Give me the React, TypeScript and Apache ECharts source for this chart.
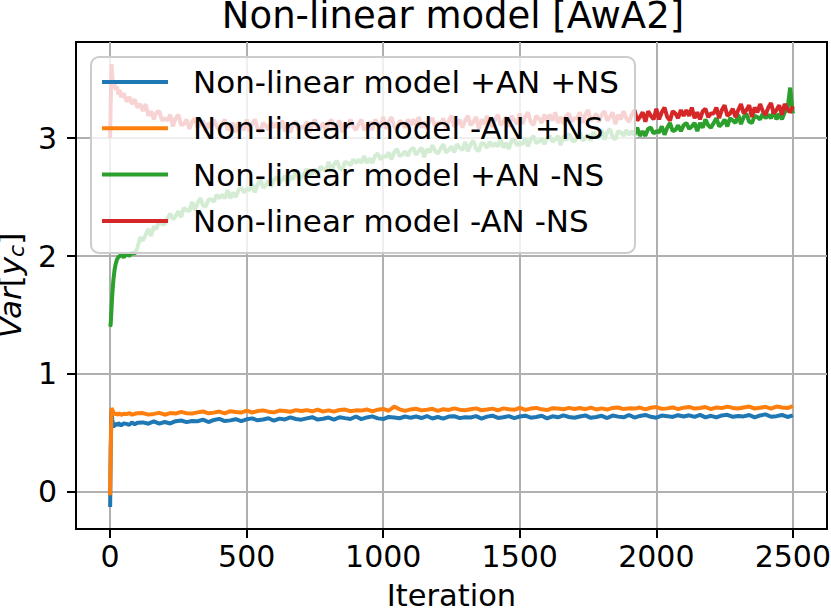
import React, { useEffect, useRef } from "react";
import * as echarts from "echarts";

// sampling grid of the two "+NS" runs
const iterationsSparse = [
  0, 2, 5, 8, 12, 16, 20, 25, 30, 35, 40, 50, 60, 70, 80, 90, 100,
  120, 140, 160, 180, 200, 220, 240, 260, 280, 300,
  320, 340, 360, 380, 400, 420, 440, 460, 480, 500,
  520, 540, 560, 580, 600, 620, 640, 660, 680, 700,
  720, 740, 760, 780, 800, 820, 840, 860, 880, 900,
  920, 940, 960, 980, 1000, 1020, 1040, 1060, 1080, 1100,
  1120, 1140, 1160, 1180, 1200, 1220, 1240, 1260, 1280, 1300,
  1320, 1340, 1360, 1380, 1400, 1420, 1440, 1460, 1480, 1500,
  1520, 1540, 1560, 1580, 1600, 1620, 1640, 1660, 1680, 1700,
  1720, 1740, 1760, 1780, 1800, 1820, 1840, 1860, 1880, 1900,
  1920, 1940, 1960, 1980, 2000, 2020, 2040, 2060, 2080, 2100,
  2120, 2140, 2160, 2180, 2200, 2220, 2240, 2260, 2280, 2300,
  2320, 2340, 2360, 2380, 2400, 2420, 2440, 2460, 2480, 2500,
];

// sampling grid of the two "-NS" runs
const iterationsDense = [
  0, 2, 5, 8, 12, 16, 20, 25, 30, 35, 40, 50, 60, 70, 80, 90, 100,
  110, 120, 130, 140, 150, 160, 170, 180, 190, 200,
  210, 220, 230, 240, 250, 260, 270, 280, 290, 300,
  310, 320, 330, 340, 350, 360, 370, 380, 390, 400,
  410, 420, 430, 440, 450, 460, 470, 480, 490, 500,
  510, 520, 530, 540, 550, 560, 570, 580, 590, 600,
  610, 620, 630, 640, 650, 660, 670, 680, 690, 700,
  710, 720, 730, 740, 750, 760, 770, 780, 790, 800,
  810, 820, 830, 840, 850, 860, 870, 880, 890, 900,
  910, 920, 930, 940, 950, 960, 970, 980, 990, 1000,
  1010, 1020, 1030, 1040, 1050, 1060, 1070, 1080, 1090, 1100,
  1110, 1120, 1130, 1140, 1150, 1160, 1170, 1180, 1190, 1200,
  1210, 1220, 1230, 1240, 1250, 1260, 1270, 1280, 1290, 1300,
  1310, 1320, 1330, 1340, 1350, 1360, 1370, 1380, 1390, 1400,
  1410, 1420, 1430, 1440, 1450, 1460, 1470, 1480, 1490, 1500,
  1510, 1520, 1530, 1540, 1550, 1560, 1570, 1580, 1590, 1600,
  1610, 1620, 1630, 1640, 1650, 1660, 1670, 1680, 1690, 1700,
  1710, 1720, 1730, 1740, 1750, 1760, 1770, 1780, 1790, 1800,
  1810, 1820, 1830, 1840, 1850, 1860, 1870, 1880, 1890, 1900,
  1910, 1920, 1930, 1940, 1950, 1960, 1970, 1980, 1990, 2000,
  2010, 2020, 2030, 2040, 2050, 2060, 2070, 2080, 2090, 2100,
  2110, 2120, 2130, 2140, 2150, 2160, 2170, 2180, 2190, 2200,
  2210, 2220, 2230, 2240, 2250, 2260, 2270, 2280, 2290, 2300,
  2310, 2320, 2330, 2340, 2350, 2360, 2370, 2380, 2390, 2400,
  2410, 2420, 2430, 2440, 2450, 2460, 2470, 2480, 2490, 2500,
];

const plusAnPlusNs = [
  -0.13, 0.35, 0.69, 0.61, 0.55, 0.565, 0.58, 0.56, 0.585, 0.57, 0.562, 0.58, 0.575, 0.567, 0.588, 0.572, 0.585,
  0.588, 0.577, 0.596, 0.577, 0.591, 0.579, 0.598, 0.604, 0.59, 0.6,
  0.598, 0.611, 0.591, 0.609, 0.618, 0.599, 0.605, 0.615, 0.599, 0.614,
  0.622, 0.606, 0.613, 0.623, 0.602, 0.62, 0.613, 0.63, 0.617, 0.611,
  0.622, 0.632, 0.612, 0.619, 0.629, 0.611, 0.632, 0.624, 0.617, 0.638,
  0.616, 0.63, 0.639, 0.622, 0.616, 0.634, 0.63, 0.623, 0.638, 0.628,
  0.638, 0.625, 0.642, 0.621, 0.634, 0.62, 0.637, 0.641, 0.624, 0.632,
  0.629, 0.641, 0.62, 0.637, 0.645, 0.626, 0.631, 0.641, 0.624, 0.638,
  0.645, 0.628, 0.634, 0.644, 0.622, 0.64, 0.631, 0.647, 0.634, 0.627,
  0.638, 0.647, 0.627, 0.634, 0.644, 0.625, 0.646, 0.637, 0.631, 0.651,
  0.629, 0.643, 0.651, 0.635, 0.628, 0.646, 0.641, 0.634, 0.649, 0.638,
  0.648, 0.635, 0.652, 0.631, 0.644, 0.63, 0.647, 0.652, 0.635, 0.642,
  0.639, 0.651, 0.63, 0.647, 0.656, 0.636, 0.641, 0.651, 0.634, 0.648,
];

const minusAnPlusNs = [
  -0.03, 0.32, 0.71, 0.695, 0.672, 0.655, 0.668, 0.652, 0.66, 0.664, 0.65, 0.662, 0.658, 0.667, 0.653, 0.661, 0.666,
  0.667, 0.654, 0.66, 0.669, 0.653, 0.667, 0.663, 0.677, 0.666, 0.663,
  0.673, 0.681, 0.665, 0.671, 0.68, 0.665, 0.683, 0.676, 0.671, 0.688,
  0.672, 0.684, 0.69, 0.679, 0.673, 0.688, 0.684, 0.678, 0.692, 0.684,
  0.692, 0.682, 0.697, 0.68, 0.69, 0.679, 0.694, 0.697, 0.683, 0.69,
  0.688, 0.698, 0.681, 0.696, 0.702, 0.687, 0.722, 0.699, 0.686, 0.698,
  0.704, 0.69, 0.696, 0.703, 0.686, 0.7, 0.694, 0.707, 0.696, 0.691,
  0.7, 0.707, 0.691, 0.697, 0.705, 0.69, 0.707, 0.7, 0.695, 0.711,
  0.694, 0.705, 0.711, 0.699, 0.693, 0.709, 0.705, 0.699, 0.711, 0.702,
  0.71, 0.7, 0.714, 0.698, 0.707, 0.697, 0.711, 0.714, 0.701, 0.707,
  0.705, 0.714, 0.698, 0.712, 0.718, 0.703, 0.707, 0.715, 0.701, 0.713,
  0.719, 0.705, 0.711, 0.718, 0.701, 0.715, 0.709, 0.722, 0.711, 0.706,
  0.715, 0.722, 0.706, 0.712, 0.72, 0.705, 0.722, 0.715, 0.71, 0.726,
];

const plusAnMinusNs = [
  1.4, 1.42, 1.55, 1.68, 1.8, 1.88, 1.93, 1.97, 1.99, 2.0, 2.01, 1.99, 2.02, 2.0, 2.03, 2.02, 2.07,
  2.16, 2.13, 2.18, 2.23, 2.17, 2.25, 2.23, 2.31, 2.27, 2.27,
  2.32, 2.36, 2.31, 2.34, 2.38, 2.33, 2.41, 2.39, 2.38, 2.46,
  2.39, 2.45, 2.49, 2.43, 2.42, 2.48, 2.48, 2.46, 2.52, 2.49,
  2.52, 2.49, 2.56, 2.49, 2.54, 2.5, 2.56, 2.58, 2.54, 2.57,
  2.56, 2.61, 2.54, 2.61, 2.65, 2.58, 2.6, 2.64, 2.59, 2.65,
  2.67, 2.62, 2.65, 2.68, 2.61, 2.68, 2.65, 2.72, 2.67, 2.66,
  2.7, 2.74, 2.68, 2.7, 2.74, 2.68, 2.76, 2.74, 2.72, 2.8,
  2.72, 2.78, 2.81, 2.75, 2.73, 2.8, 2.79, 2.77, 2.82, 2.79,
  2.82, 2.79, 2.85, 2.79, 2.83, 2.79, 2.85, 2.87, 2.82, 2.85,
  2.84, 2.88, 2.82, 2.88, 2.91, 2.85, 2.86, 2.89, 2.85, 2.9,
  2.92, 2.86, 2.89, 2.92, 2.84, 2.91, 2.88, 2.94, 2.89, 2.87,
  2.91, 2.95, 2.88, 2.9, 2.93, 2.88, 2.95, 2.92, 2.9, 2.97,
  2.89, 2.95, 2.98, 2.91, 2.89, 2.96, 2.95, 2.92, 2.97, 2.93,
  2.96, 2.93, 2.99, 2.92, 2.96, 2.91, 2.98, 2.99, 2.94, 2.96,
  2.95, 3.0, 2.93, 2.99, 3.02, 2.96, 2.97, 3.0, 2.95, 3.0,
  3.02, 2.97, 2.99, 3.02, 2.94, 3.02, 2.98, 3.04, 2.99, 2.97,
  3.01, 3.05, 2.98, 3.0, 3.03, 2.98, 3.05, 3.02, 3.0, 3.07,
  2.99, 3.05, 3.08, 3.01, 2.99, 3.06, 3.05, 3.02, 3.07, 3.03,
  3.06, 3.03, 3.09, 3.02, 3.06, 3.02, 3.08, 3.09, 3.04, 3.06,
  3.05, 3.1, 3.03, 3.09, 3.13, 3.06, 3.07, 3.11, 3.06, 3.11,
  3.13, 3.08, 3.1, 3.13, 3.06, 3.13, 3.09, 3.16, 3.11, 3.09,
  3.13, 3.17, 3.1, 3.12, 3.16, 3.1, 3.17, 3.15, 3.13, 3.2,
  3.12, 3.18, 3.21, 3.14, 3.13, 3.19, 3.18, 3.16, 3.21, 3.17,
  3.2, 3.17, 3.23, 3.16, 3.21, 3.16, 3.22, 3.24, 3.43, 3.21,
];

const minusAnMinusNs = [
  3.0, 3.3, 3.63, 3.52, 3.44, 3.46, 3.41, 3.44, 3.37, 3.41, 3.35, 3.38, 3.31, 3.35, 3.29, 3.33, 3.26,
  3.29, 3.23, 3.29, 3.19, 3.23, 3.16, 3.22, 3.23, 3.15, 3.17,
  3.15, 3.2, 3.1, 3.17, 3.2, 3.11, 3.12, 3.16, 3.08, 3.14,
  3.17, 3.09, 3.12, 3.15, 3.05, 3.13, 3.09, 3.16, 3.1, 3.07,
  3.12, 3.16, 3.07, 3.1, 3.13, 3.05, 3.14, 3.1, 3.07, 3.16,
  3.06, 3.12, 3.16, 3.08, 3.05, 3.13, 3.11, 3.07, 3.14, 3.09,
  3.13, 3.08, 3.15, 3.06, 3.11, 3.05, 3.12, 3.14, 3.07, 3.1,
  3.09, 3.14, 3.05, 3.12, 3.16, 3.07, 3.09, 3.13, 3.06, 3.12,
  3.16, 3.08, 3.11, 3.15, 3.05, 3.13, 3.09, 3.16, 3.1, 3.07,
  3.12, 3.16, 3.07, 3.1, 3.14, 3.07, 3.16, 3.12, 3.09, 3.18,
  3.08, 3.14, 3.18, 3.1, 3.07, 3.15, 3.13, 3.09, 3.16, 3.11,
  3.16, 3.11, 3.18, 3.09, 3.14, 3.08, 3.15, 3.17, 3.1, 3.13,
  3.12, 3.17, 3.08, 3.15, 3.19, 3.1, 3.12, 3.16, 3.09, 3.15,
  3.19, 3.11, 3.14, 3.18, 3.08, 3.16, 3.12, 3.19, 3.13, 3.1,
  3.16, 3.2, 3.11, 3.14, 3.18, 3.1, 3.19, 3.15, 3.12, 3.21,
  3.12, 3.18, 3.22, 3.14, 3.11, 3.19, 3.17, 3.13, 3.2, 3.15,
  3.2, 3.15, 3.22, 3.13, 3.18, 3.12, 3.19, 3.21, 3.14, 3.17,
  3.17, 3.22, 3.13, 3.2, 3.24, 3.15, 3.17, 3.21, 3.14, 3.2,
  3.23, 3.15, 3.18, 3.22, 3.12, 3.2, 3.16, 3.23, 3.17, 3.14,
  3.2, 3.24, 3.15, 3.18, 3.22, 3.14, 3.23, 3.19, 3.16, 3.25,
  3.16, 3.22, 3.26, 3.18, 3.15, 3.23, 3.21, 3.17, 3.24, 3.19,
  3.24, 3.19, 3.26, 3.17, 3.22, 3.16, 3.23, 3.25, 3.18, 3.21,
  3.21, 3.26, 3.17, 3.24, 3.28, 3.19, 3.21, 3.25, 3.18, 3.24,
  3.29, 3.21, 3.24, 3.28, 3.18, 3.26, 3.22, 3.29, 3.23, 3.2,
  3.26, 3.3, 3.21, 3.24, 3.28, 3.2, 3.29, 3.25, 3.22, 3.27,
];

const seriesNames = [
  "Non-linear model +AN +NS",
  "Non-linear model -AN +NS",
  "Non-linear model +AN -NS",
  "Non-linear model -AN -NS",
];
const seriesColors = ["#1f77b4", "#ff7f0e", "#2ca02c", "#d62728"];
const seriesValues = [plusAnPlusNs, minusAnPlusNs, plusAnMinusNs, minusAnMinusNs];
const seriesIterations = [iterationsSparse, iterationsSparse, iterationsDense, iterationsDense];

const xTicks = [0, 500, 1000, 1500, 2000, 2500];
const yTicks = [0, 1, 2, 3];

const FONT = "DejaVu Sans";

export default function App() {
  const ref = useRef<HTMLDivElement>(null);
  useEffect(() => {
    if (!ref.current) return;
    const chart = echarts.init(ref.current, null, { renderer: "svg" });
    const axisText = { fontSize: 30, fontFamily: FONT, color: "#000" };
    chart.setOption({
      animation: false,
      backgroundColor: "#ffffff",
      grid: {
        left: 76,
        right: 4,
        top: 42,
        bottom: 85,
        show: true,
        containLabel: false,
        outerBoundsMode: "none",
        borderColor: "#000",
        borderWidth: 2,
        backgroundColor: "transparent",
      },
      graphic: [
        {
          type: "text",
          x: 453,
          y: 15,
          style: {
            text: "Non-linear model [AwA2]",
            font: "37px 'DejaVu Sans'",
            fontSize: 37,
            fontFamily: FONT,
            fill: "#000",
            align: "center",
            verticalAlign: "middle",
          },
        },
      ],
      legend: {
        orient: "vertical",
        left: 91,
        top: 57,
        itemWidth: 66,
        itemHeight: 4,
        itemGap: 12.3,
        icon: "rect",
        padding: [8, 16, 15, 11],
        backgroundColor: "rgba(255,255,255,0.8)",
        borderColor: "#cccccc",
        borderWidth: 2,
        borderRadius: 8,
        data: seriesNames,
        textStyle: {
          fontSize: 31,
          fontFamily: FONT,
          color: "#000",
          lineHeight: 34,
          padding: [0, 0, 0, 20],
        },
      },
      xAxis: {
        type: "value",
        min: -125,
        max: 2625,
        splitNumber: 5,
        name: "Iteration",
        nameLocation: "middle",
        nameGap: 51,
        nameTextStyle: { ...axisText, fontSize: 30.5 },
        axisLine: { show: true, onZero: false, lineStyle: { color: "#000", width: 2 } },
        axisTick: { show: true, length: 9, customValues: xTicks, lineStyle: { color: "#000", width: 2 } },
        axisLabel: {
          ...axisText,
          margin: 12,
          customValues: xTicks,
          formatter: (v: number) => String(v),
        },
        splitLine: { show: true, lineStyle: { color: "#b0b0b0", width: 2 } },
      },
      yAxis: {
        type: "value",
        min: -0.317,
        max: 3.817,
        splitNumber: 4,
        minInterval: 1,
        maxInterval: 1,
        name: "{i|Var}{n|[}{i|y}{s|c}{n|]}",
        nameLocation: "middle",
        nameRotate: 90,
        nameGap: 35,
        nameTextStyle: {
          ...axisText,
          fontSize: 31,
          rich: {
            i: { fontSize: 31, fontFamily: FONT, fontStyle: "italic", color: "#000" },
            n: { fontSize: 31, fontFamily: FONT, color: "#000" },
            s: { fontSize: 22, fontFamily: FONT, fontStyle: "italic", color: "#000", padding: [12, 0, 0, 0] },
          },
        },
        axisLine: { show: true, onZero: false, lineStyle: { color: "#000", width: 2 } },
        axisTick: { show: true, length: 9, customValues: yTicks, lineStyle: { color: "#000", width: 2 } },
        axisLabel: {
          ...axisText,
          margin: 19,
          customValues: yTicks,
          formatter: (v: number) => String(v),
        },
        splitLine: { show: true, lineStyle: { color: "#b0b0b0", width: 2 } },
      },
      series: seriesNames.map((name, k) => ({
        name,
        type: "line",
        symbol: "none",
        showSymbol: false,
        clip: true,
        color: seriesColors[k],
        lineStyle: { color: seriesColors[k], width: 4 },
        data: seriesIterations[k].map((it, i) => [it, seriesValues[k][i]]),
      })),
    });
    return () => chart.dispose();
  }, []);
  return (
    <div
      ref={ref}
      style={{ position: "fixed", left: 0, top: 0, width: 831, height: 614 }}
    />
  );
}
